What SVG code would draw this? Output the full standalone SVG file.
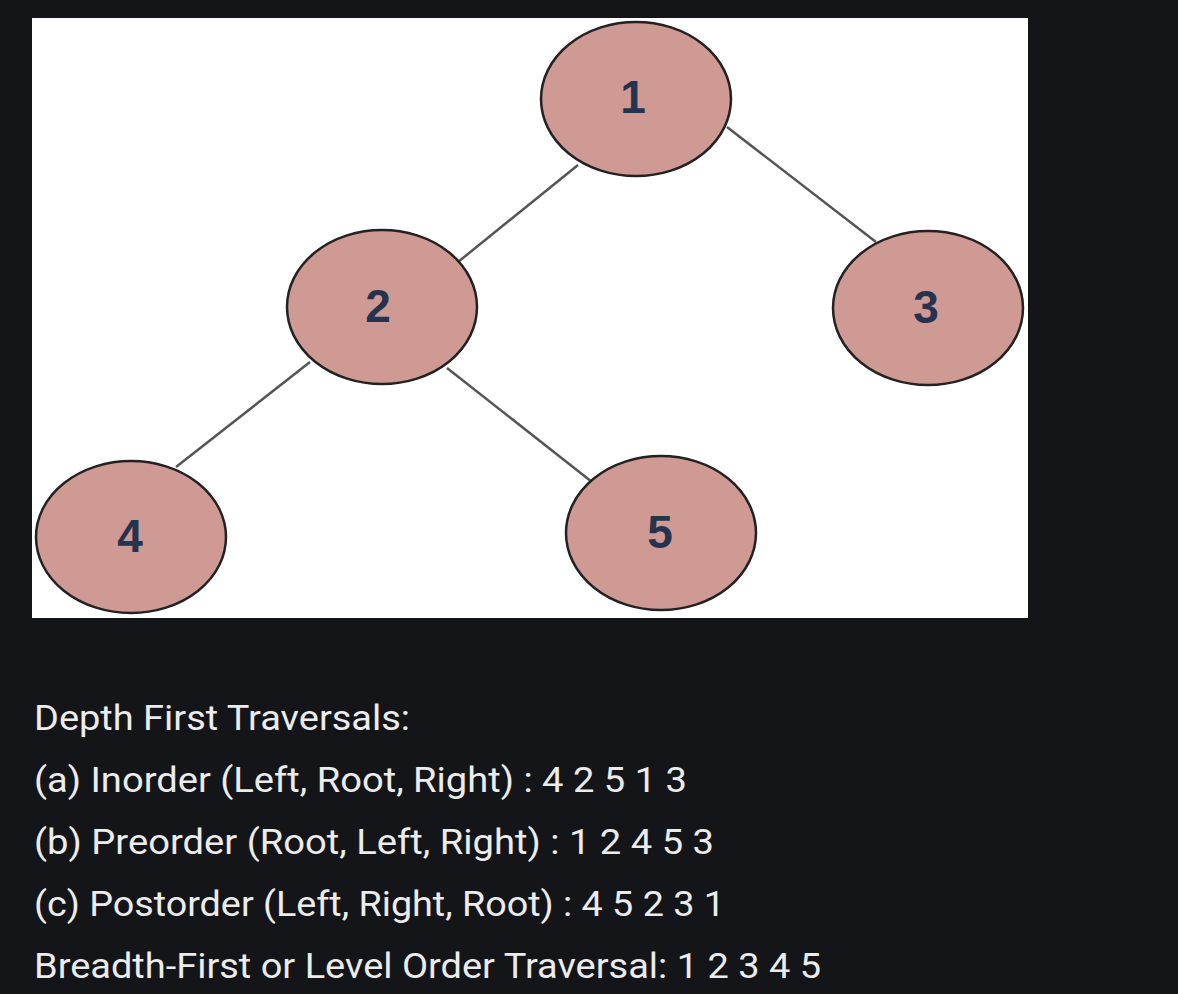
<svg xmlns="http://www.w3.org/2000/svg" width="1178" height="994" viewBox="0 0 1178 994">
<style>
.node{fill:#cf9994;stroke:#222;stroke-width:2.5}
.lbl{font-family:"Liberation Sans",Arial,sans-serif;font-weight:bold;font-size:46px;fill:#26334f;text-anchor:middle}
.edge{stroke:#555;stroke-width:2.5;fill:none}
.txt{font-family:Roboto,"Open Sans",sans-serif;font-size:35px;fill:#ececec}
</style>
<rect x="0" y="0" width="1178" height="994" fill="#141519"/>
<rect x="32" y="18" width="996" height="600" fill="#ffffff"/>
<g id="connectors">
<line class="edge" x1="578" y1="165" x2="458" y2="262"/>
<line class="edge" x1="727" y1="127" x2="876" y2="242"/>
<line class="edge" x1="310" y1="362" x2="176" y2="467"/>
<line class="edge" x1="447" y1="368" x2="592" y2="482"/>
</g>
<g id="node1"><ellipse class="node" cx="636" cy="99" rx="95" ry="77"/><text class="lbl" x="633" y="113">1</text></g>
<g id="node2"><ellipse class="node" cx="382" cy="307" rx="95" ry="77"/><text class="lbl" x="378" y="322">2</text></g>
<g id="node3"><ellipse class="node" cx="928" cy="308" rx="95" ry="77"/><text class="lbl" x="926" y="323">3</text></g>
<g id="node4"><ellipse class="node" cx="131" cy="537" rx="95" ry="76"/><text class="lbl" x="130" y="552">4</text></g>
<g id="node5"><ellipse class="node" cx="661" cy="533" rx="95" ry="77"/><text class="lbl" x="660" y="548">5</text></g>
<g id="text">
<text class="txt" x="34" y="730" textLength="376" lengthAdjust="spacingAndGlyphs">Depth First Traversals:</text>
<text class="txt" x="34" y="792" textLength="653" lengthAdjust="spacingAndGlyphs">(a) Inorder (Left, Root, Right) : 4 2 5 1 3</text>
<text class="txt" x="34" y="854" textLength="680" lengthAdjust="spacingAndGlyphs">(b) Preorder (Root, Left, Right) : 1 2 4 5 3</text>
<text class="txt" x="34" y="916" textLength="691" lengthAdjust="spacingAndGlyphs">(c) Postorder (Left, Right, Root) : 4 5 2 3 1</text>
<text class="txt" x="34" y="978" textLength="787" lengthAdjust="spacingAndGlyphs">Breadth-First or Level Order Traversal: 1 2 3 4 5</text>
</g>
</svg>
